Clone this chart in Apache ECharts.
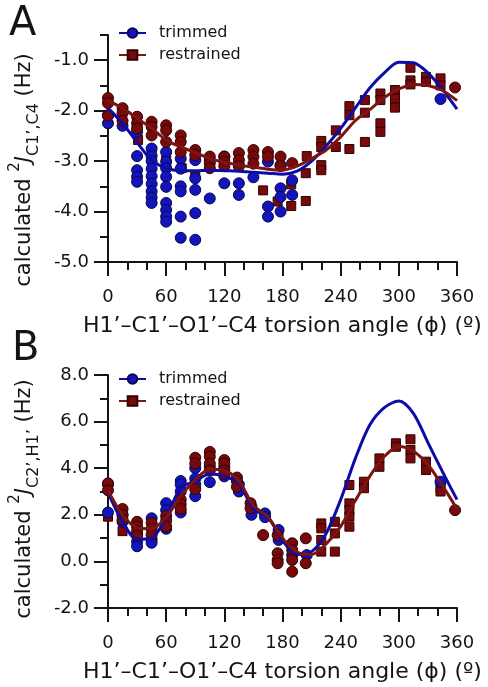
<!DOCTYPE html>
<html>
<head>
<meta charset="utf-8">
<script src="https://cdn.jsdelivr.net/npm/echarts@6/dist/echarts.min.js"></script>
<style>
	html, body { margin: 0; padding: 0; background: #fff; }
	#chart { width: 488px; height: 687px; }
</style>
</head>
<body>
<div id="chart"></div>
<script>
// torsion angles of the fitted curves
const phiFit = [0, 15, 30, 45, 60, 75, 90, 105, 120, 135, 150, 165, 180, 195, 210, 225, 240, 255, 270, 285, 300, 315, 330, 345, 360];

// panel A: 2J(C1',C4)
const fitTrimmedA = [-1.95, -2.25, -2.63, -2.98, -3.14, -3.19, -3.19, -3.18, -3.19, -3.2, -3.22, -3.24, -3.26, -3.2, -3.0, -2.7, -2.35, -1.95, -1.55, -1.25, -1.04, -1.05, -1.25, -1.58, -1.97];
const fitRestrainedA = [-1.8, -1.95, -2.15, -2.35, -2.58, -2.72, -2.83, -2.95, -3.02, -3.08, -3.12, -3.16, -3.18, -3.1, -2.95, -2.78, -2.52, -2.2, -1.98, -1.74, -1.57, -1.48, -1.5, -1.6, -1.8];
const trimmedA = [
	[0, -2.09], [0, -2.25], [15, -2.3],
	[30, -2.42], [30, -2.9], [30, -3.18], [30, -3.31], [30, -3.41],
	[45, -2.75], [45, -2.9], [45, -3.0], [45, -3.15], [45, -3.3], [45, -3.45], [45, -3.6], [45, -3.72], [45, -3.83],
	[60, -2.82], [60, -3.01], [60, -3.14], [60, -3.31], [60, -3.51], [60, -3.83], [60, -3.97], [60, -4.1], [60, -4.2],
	[75, -2.95], [75, -3.15], [75, -3.5], [75, -3.6], [75, -4.1], [75, -4.52],
	[90, -2.98], [90, -3.34], [90, -3.57], [90, -4.03], [90, -4.56],
	[105, -2.98], [105, -3.74], [120, -2.91], [120, -3.44],
	[135, -3.08], [135, -3.44], [135, -3.67], [150, -3.32],
	[165, -3.01], [165, -3.9], [165, -4.1],
	[178, -3.08], [178, -3.54], [178, -3.71], [178, -4.0],
	[190, -3.38], [190, -3.67], [343, -1.77]
];
const restrainedCircA = [
	[0, -1.75], [0, -1.85], [0, -2.1], [15, -1.95], [15, -2.05], [15, -2.2],
	[30, -2.12], [30, -2.25], [30, -2.35], [45, -2.22], [45, -2.32], [45, -2.49],
	[60, -2.29], [60, -2.39], [60, -2.62], [75, -2.49], [75, -2.62], [75, -2.82],
	[90, -2.78], [90, -2.88], [105, -2.91], [105, -3.04], [105, -3.14],
	[120, -2.91], [120, -3.01], [120, -3.1], [135, -2.84], [135, -2.98], [135, -3.1],
	[150, -2.78], [150, -2.91], [150, -3.05], [165, -2.82], [165, -2.91],
	[178, -2.91], [178, -3.1], [190, -3.04], [358, -1.54]
];
const restrainedSqA = [
	[31, -2.58], [45, -2.86], [60, -2.98], [76, -3.14], [90, -3.28], [160, -3.58], [175, -3.8],
	[189, -3.46], [189, -3.89], [204, -3.79], [204, -3.24], [205, -2.9],
	[220, -2.6], [220, -2.72], [220, -3.08], [220, -3.18], [235, -2.39], [235, -2.72],
	[249, -1.91], [249, -2.09], [249, -2.76], [265, -1.79], [265, -2.04], [265, -2.62],
	[281, -1.66], [281, -1.79], [281, -2.25], [281, -2.42], [296, -1.59], [296, -1.76], [296, -1.94],
	[312, -1.15], [312, -1.4], [312, -1.48], [328, -1.33], [328, -1.43], [343, -1.36], [343, -1.5]
];

// panel B: 2J(C2',H1')
const fitTrimmedB = [2.95, 1.7, 0.95, 1.0, 1.9, 3.15, 3.45, 3.75, 3.65, 3.35, 2.25, 1.9, 0.9, 0.3, 0.42, 1.2, 2.65, 4.4, 5.85, 6.6, 6.88, 6.35, 5.1, 3.85, 2.65];
const fitRestrainedB = [3.05, 2.0, 1.45, 1.4, 1.9, 2.8, 3.5, 3.95, 3.9, 3.45, 2.4, 1.9, 1.0, 0.4, 0.3, 0.75, 1.5, 2.6, 3.65, 4.5, 4.93, 4.73, 4.15, 3.25, 2.25];
const trimmedB = [
	[0, 3.3], [0, 2.1], [15, 1.7], [15, 2.0], [30, 1.15], [30, 0.85], [30, 0.65],
	[45, 1.85], [45, 0.95], [45, 0.8], [60, 2.5], [60, 2.2], [60, 1.4],
	[75, 3.45], [75, 3.3], [75, 3.0], [75, 2.1], [90, 4.0], [90, 3.55], [90, 3.3], [90, 2.8],
	[105, 4.05], [105, 3.4], [120, 4.05], [120, 3.65], [135, 3.3], [135, 3.0],
	[148, 2.35], [148, 2.0], [162, 2.06], [162, 1.9], [176, 1.35], [176, 0.92],
	[190, 0.27], [205, 0.27], [343, 3.42]
];
const restrainedCircB = [
	[0, 3.35], [0, 3.05], [15, 2.25], [15, 2.0], [15, 1.8],
	[30, 1.7], [30, 1.5], [30, 1.3], [30, 1.1], [45, 1.65], [45, 1.4], [45, 1.15],
	[60, 1.95], [60, 1.75], [60, 1.5], [75, 2.65], [75, 2.45], [75, 2.25],
	[90, 4.45], [90, 4.2], [90, 3.1], [105, 4.7], [105, 4.5], [105, 4.2], [105, 3.9],
	[120, 4.35], [120, 4.2], [120, 3.9], [120, 3.75], [133, 3.6], [133, 3.45], [133, 3.2],
	[147, 2.5], [147, 2.28], [160, 1.13],
	[175, 1.13], [175, 0.35], [175, 0.06], [175, -0.08],
	[190, 0.78], [190, 0.49], [190, 0.06], [190, -0.44], [204, 0.99], [204, -0.08], [358, 2.2]
];
const restrainedSqB = [
	[0, 1.92], [15, 1.3],
	[220, 1.63], [220, 1.42], [220, 0.92], [220, 0.42], [234, 1.7], [234, 1.2], [234, 0.42],
	[249, 3.28], [249, 2.49], [249, 2.2], [249, 1.92], [249, 1.49], [264, 3.42], [264, 3.14],
	[280, 4.42], [280, 4.06], [297, 5.07], [297, 4.92], [312, 5.24], [312, 4.78], [312, 4.42],
	[328, 4.28], [328, 3.92], [343, 3.42], [343, 3.14], [343, 3.0]
];

// tick labels
const xTicks = [0, 60, 120, 180, 240, 300, 360];
const yTicksA = [-5, -4, -3, -2, -1];
const yTicksB = [-2, 0, 2, 4, 6, 8];

const xTitle = 'H1’–C1’–O1’–C4 torsion angle (ϕ) (º)';
const yTitleA = 'calculated {sup|2}{it|J}{sub|C1’,C4} (Hz)';
const yTitleB = 'calculated {sup|2}{it|J}{sub|C2’,H1’} (Hz)';

const fontFamily = 'DejaVu Sans';
const color = {
	ink: '#141414',
	blue: '#1414bc',
	blueEdge: '#08084a',
	blueLine: '#0c0ca6',
	red: '#760a0a',
	redEdge: '#330000',
	redLine: '#7c1414',
};

const chart = echarts.init(document.getElementById('chart'), null, { renderer: 'canvas', devicePixelRatio: 1 });

function xAxis(gridIndex) {
	return {
		gridIndex,
		type: 'value',
		min: xTicks[0],
		max: xTicks[xTicks.length - 1],
		interval: xTicks[1] - xTicks[0],
		axisLine: { show: true, onZero: false, lineStyle: { color: color.ink, width: 2 } },
		axisTick: { show: true, length: 14, lineStyle: { color: color.ink, width: 2 } },
		minorTick: { show: true, splitNumber: 3, length: 8, lineStyle: { color: color.ink, width: 2 } },
		splitLine: { show: false },
		axisLabel: { margin: 26, fontSize: 18, fontFamily, color: color.ink },
		name: xTitle,
		nameLocation: 'middle',
		nameGap: 53,
		nameTextStyle: { fontSize: 22, fontFamily, color: color.ink },
	};
}

const tickLine = { color: color.ink, width: 2 };
const labelFmt = v => (Number.isInteger(v) ? v.toFixed(1) : '');

const yAxes = [
	// panel A: short ticks every 0.5 with labels on the integers
	{
		gridIndex: 0, type: 'value', position: 'left',
		min: yTicksA[0], max: -0.5, interval: 0.5,
		axisLine: { show: true, onZero: false, lineStyle: tickLine },
		axisTick: { show: true, length: 8, lineStyle: tickLine },
		splitLine: { show: false },
		axisLabel: { margin: 19, fontSize: 18, fontFamily, color: color.ink, formatter: labelFmt },
	},
	// panel A: long ticks on the labelled values
	{
		gridIndex: 0, type: 'value', position: 'left',
		min: yTicksA[0], max: -0.5, interval: 0.5,
		axisLine: { show: false },
		axisTick: { show: true, length: 14, lineStyle: tickLine, customValues: yTicksA },
		axisLabel: { show: false },
		splitLine: { show: false },
	},
	// panel B
	{
		gridIndex: 1, type: 'value', position: 'left',
		min: yTicksB[0], max: yTicksB[yTicksB.length - 1], interval: yTicksB[1] - yTicksB[0],
		axisLine: { show: true, onZero: false, lineStyle: tickLine },
		axisTick: { show: true, length: 14, lineStyle: tickLine },
		minorTick: { show: true, splitNumber: 2, length: 8, lineStyle: tickLine },
		splitLine: { show: false },
		axisLabel: { margin: 19, fontSize: 18, fontFamily, color: color.ink, formatter: v => v.toFixed(1) },
	},
];

function fitLine(name, values, xAxisIndex, yAxisIndex, lineColor, fill, edge, symbol) {
	return {
		name, type: 'line', xAxisIndex, yAxisIndex, z: 4,
		data: phiFit.map((p, i) => [p, values[i]]),
		smooth: 0.3,
		showSymbol: false,
		symbol,
		symbolSize: 10,
		itemStyle: { color: fill, borderColor: edge, borderWidth: 1 },
		lineStyle: { color: lineColor, width: 3 },
		silent: true,
	};
}

function points(name, data, xAxisIndex, yAxisIndex, symbol, fill, edge) {
	return {
		name, type: 'scatter', xAxisIndex, yAxisIndex, z: 2,
		data,
		symbol,
		symbolSize: symbol === 'circle' ? 11 : 9,
		itemStyle: { color: fill, borderColor: edge, borderWidth: 1, opacity: 1 },
		silent: true,
	};
}

const legendBase = {
	orient: 'vertical',
	left: 118,
	padding: 0,
	itemWidth: 27,
	itemHeight: 12,
	itemGap: 6,
	selectedMode: false,
	data: ['trimmed', 'restrained'],
	textStyle: { fontSize: 16, fontFamily, color: color.ink, padding: [0, 0, 0, 8] },
};

const richTitle = {
	sup: { fontSize: 15, fontFamily, fill: color.ink, verticalAlign: 'top', lineHeight: 16 },
	it: { fontSize: 21, fontFamily, fill: color.ink, fontStyle: 'italic', lineHeight: 34 },
	sub: { fontSize: 16, fontFamily, fill: color.ink, verticalAlign: 'bottom', lineHeight: 16 },
};

function yTitle(text, x, y) {
	return {
		type: 'text', x, y, rotation: Math.PI / 2,
		style: {
			text, fontSize: 21, fontFamily, fill: color.ink, lineHeight: 34,
			align: 'center', verticalAlign: 'middle', rich: richTitle,
		},
	};
}

const option = {
	backgroundColor: '#fff',
	animation: false,
	grid: [
		{ left: 108, top: 35, width: 349, height: 227 },
		{ left: 108, top: 375, width: 349, height: 233 },
	],
	xAxis: [xAxis(0), xAxis(1)],
	yAxis: yAxes,
	legend: [
		{ ...legendBase, top: 25 },
		{ ...legendBase, top: 371 },
	],
	graphic: [
		{ type: 'text', left: 9, top: 5, style: { text: 'A', fontSize: 40, fontFamily, fill: color.ink } },
		{ type: 'text', left: 12, top: 330, style: { text: 'B', fontSize: 40, fontFamily, fill: color.ink } },
		yTitle(yTitleA, 25, 170),
		yTitle(yTitleB, 25, 499),
	],
	series: [
		fitLine('trimmed', fitTrimmedA, 0, 0, color.blueLine, color.blue, color.blueEdge, 'circle'),
		fitLine('restrained', fitRestrainedA, 0, 0, color.redLine, color.red, color.redEdge, 'rect'),
		fitLine('trimmed', fitTrimmedB, 1, 2, color.blueLine, color.blue, color.blueEdge, 'circle'),
		fitLine('restrained', fitRestrainedB, 1, 2, color.redLine, color.red, color.redEdge, 'rect'),
		points('restrained', restrainedSqA, 0, 0, 'rect', color.red, color.redEdge),
		points('trimmed', trimmedA, 0, 0, 'circle', color.blue, color.blueEdge),
		points('restrained', restrainedCircA, 0, 0, 'circle', color.red, color.redEdge),
		points('restrained', restrainedSqB, 1, 2, 'rect', color.red, color.redEdge),
		points('trimmed', trimmedB, 1, 2, 'circle', color.blue, color.blueEdge),
		points('restrained', restrainedCircB, 1, 2, 'circle', color.red, color.redEdge),
	],
};

chart.setOption(option);
</script>
</body>
</html>
